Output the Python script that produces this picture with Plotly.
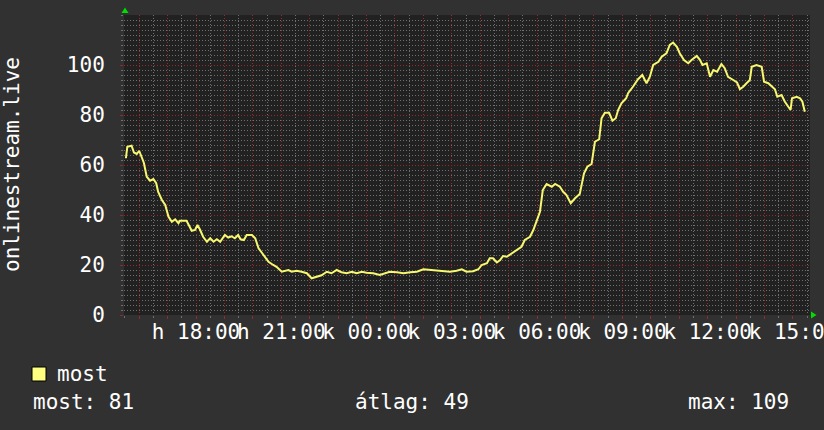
import plotly.graph_objects as go
import pandas as pd

# ---- data ----
times = ["15:32","15:35","15:44","15:49","15:55","16:00","16:05","16:10","16:16","16:23",
         "16:30","16:36","16:40","16:48","16:55","17:02","17:09","17:16","17:23","17:26",
         "17:40","17:47","17:51","17:58","18:03","18:08","18:15","18:23","18:30","18:37",
         "18:44","18:51","19:01","19:08","19:15","19:22","19:29","19:34","19:41","19:47",
         "19:58","20:05","20:12","20:19","20:26","20:33","20:43","20:50","21:01","21:15",
         "21:22","21:32",
         "21:43","21:54","22:04","22:15","22:25","22:36","22:46","22:57","23:07","23:18",
         "23:29","23:39","23:50","00:00","00:14","00:28","00:39","00:49","01:04","01:18",
         "01:32","01:46","02:00","02:14","02:28","02:42","02:56","03:10","03:21","03:31",
         "03:45","03:56","04:03","04:14","04:20","04:27","04:35","04:42","04:48","04:56",
         "05:06","05:17","05:27","05:34",
         "05:45","05:52","05:59","06:06","06:12","06:20","06:31","06:38","06:48","06:55",
         "07:02","07:11","07:20","07:30","07:39","07:46","07:55","08:02","08:11","08:16",
         "08:23","08:32","08:39","08:46","08:51","08:58","09:08","09:12","09:23","09:33",
         "09:42","09:51","09:58","10:05","10:16","10:23","10:33","10:40","10:47","10:55",
         "11:01","11:10","11:19","11:26","11:37","11:44","11:49","11:58","12:05","12:12",
         "12:20","12:29","12:36","12:43","12:54","13:02","13:08","13:15","13:22","13:29",
         "13:33","13:43","13:54","13:59","14:08","14:15","14:22","14:27","14:36","14:43",
         "14:50","14:55","14:58","15:08","15:15","15:20","15:25"]
values = [62.7,67.3,67.7,65,64.4,65.7,63.3,60.8,55.3,53.7,
          54.4,52.7,49.3,46,44,39.3,37.3,38.3,36.7,37.7,
          37.7,35.3,33.7,34,36,34.3,31.3,29.3,30.7,29.3,
          30.3,29.3,32,31,31.5,30.7,32,30.3,30,32,
          32,30.7,26.7,24.9,23.3,21.3,20,19.3,17.3,18,
          17.3,17.7,
          17.3,16.7,14.7,15.2,15.9,17.3,16.7,18,17.1,16.7,
          17.3,16.7,17.3,16.9,16.7,16,16.7,17.3,17.1,16.7,
          17.1,17.3,18.3,18,17.7,17.7,17.3,17.7,18.3,17.3,
          17.5,18.3,20,20.7,22.7,22.7,21,22,23.6,23.3,
          24.7,26,27.3,30,
          31.3,34,37.3,41.3,50,52.4,51.3,52.4,51.3,49.3,
          48,44.7,46.7,48.4,56.7,59.3,60.4,69.3,70.3,78.7,
          80.9,80.9,77.7,78.7,82,84.7,86.7,88.7,91.5,94.3,
          96,92.7,95.3,100,101.3,103.3,104.7,108,109,107.3,
          104.7,102,100.7,102,103.6,102,100,100.7,95.3,98,
          97.3,100.4,98.7,95.3,94,93,90.3,91.3,92.7,94,
          99.3,100,99.3,93.3,92.7,91.3,90.3,87.3,88,85.3,
          83.3,82,86.7,87.3,86.7,85.3,81.3]

start_day = "2024-01-01"
x_range = ["2024-01-01 15:28", "2024-01-02 15:36"]
tick_times = ["2024-01-01 18:00", "2024-01-01 21:00", "2024-01-02 00:00", "2024-01-02 03:00",
              "2024-01-02 06:00", "2024-01-02 09:00", "2024-01-02 12:00", "2024-01-02 15:00"]
tick_labels = ["h 18:00", "h 21:00", "k 00:00", "k 03:00", "k 06:00", "k 09:00", "k 12:00", "k 15:00"]
y_ticks = [0, 20, 40, 60, 80, 100]
y_title = "onlinestream.live"
series_name = "most"
stat_labels = ["most: 81", "átlag: 49", "max: 109"]

# ---- build timestamps (day rolls over when the clock goes back) ----
day = pd.Timestamp(start_day)
xs = []
prev = None
for t in times:
    h, m = map(int, t.split(":"))
    mins = h * 60 + m
    if prev is not None and mins < prev:
        day += pd.Timedelta(days=1)
    prev = mins
    xs.append(day + pd.Timedelta(minutes=mins))

hour_ticks = pd.date_range("2024-01-01 16:00", "2024-01-02 15:00", freq="h")
label_map = {pd.Timestamp(a): b for a, b in zip(tick_times, tick_labels)}
hour_text = [label_map.get(h, "") for h in hour_ticks]

# ---- layout geometry (pixels) ----
W, H = 824, 430
L, R, T, B = 124, 810, 15, 315
def px(x):
    return (x - L) / (R - L)
def py(y):
    return (B - y) / (B - T)

FONT = "DejaVu Sans Mono"
LINE = "#f8f870"
RED = "rgba(150,40,40,0.95)"
GREY = "rgba(120,120,120,0.9)"

fig = go.Figure()
fig.add_trace(go.Scatter(x=xs, y=values, mode="lines", line=dict(color=LINE, width=2),
                         name=series_name, showlegend=False, hoverinfo="skip", cliponaxis=False))

fig.update_layout(
    width=W, height=H,
    margin=dict(l=L, r=W - R, t=T, b=H - B, pad=0, autoexpand=False),
    paper_bgcolor="#313131",
    plot_bgcolor="#212121",
    font=dict(family=FONT, size=21, color="#ffffff"),
    showlegend=False,
    xaxis=dict(
        range=x_range, tickmode="array", tickvals=hour_ticks, ticktext=hour_text,
        tickangle=0, automargin=False, ticklabeloverflow="allow", ticklabelstandoff=-5,
        showgrid=True, gridcolor=RED, gridwidth=1, griddash="1px,2px",
        ticks="outside", ticklen=3, tickcolor=RED, zeroline=False, showline=False,
        tickfont=dict(family=FONT, size=21, color="#ffffff"),
        minor=dict(dtick=1800000, tick0="2024-01-01 00:00", showgrid=True, gridcolor=GREY,
                   griddash="1px,2px", ticks="outside", ticklen=2, tickcolor=GREY),
    ),
    yaxis=dict(
        range=[0, 120], tickmode="array", tickvals=y_ticks, automargin=False,
        showgrid=True, gridcolor=RED, gridwidth=1, griddash="1px,2px",
        ticks="outside", ticklen=3, tickcolor=RED, zeroline=False, showline=False,
        ticklabelstandoff=11,
        tickfont=dict(family=FONT, size=21, color="#ffffff"),
        minor=dict(dtick=2, tick0=0, showgrid=True, gridcolor=GREY, griddash="1px,2px",
                   ticks="outside", ticklen=2, tickcolor=GREY),
    ),
)

annotations = [
    dict(text=y_title, x=px(12), y=0.5, textangle=-90, xanchor="center", yanchor="middle"),
    dict(text=series_name, x=px(55), y=py(374), xanchor="left", yanchor="middle"),
    dict(text=stat_labels[0], x=px(31), y=py(402), xanchor="left", yanchor="middle"),
    dict(text=stat_labels[1], x=px(353), y=py(402), xanchor="left", yanchor="middle"),
    dict(text=stat_labels[2], x=px(686), y=py(402), xanchor="left", yanchor="middle"),
]
for a in annotations:
    a.update(xref="paper", yref="paper", showarrow=False,
             font=dict(family=FONT, size=21, color="#ffffff"))
fig.update_layout(annotations=annotations)

shapes = [
    dict(type="rect", xref="paper", yref="paper", x0=px(32), x1=px(46), y0=py(381), y1=py(367),
         fillcolor="#ffff80", line=dict(color="#000000", width=1)),
    dict(type="path", xref="paper", yref="paper",
         path=f"M {px(121.5)},{py(13)} L {px(128.5)},{py(13)} L {px(125)},{py(7.5)} Z",
         fillcolor="#00dd00", line=dict(width=0)),
    dict(type="path", xref="paper", yref="paper",
         path=f"M {px(811)},{py(311.5)} L {px(811)},{py(318.5)} L {px(816.5)},{py(315)} Z",
         fillcolor="#00dd00", line=dict(width=0)),
]
fig.update_layout(shapes=shapes)

fig.write_html("out.html", config={"displayModeBar": False},
               post_script="document.body.style.margin='0';document.body.style.background='#313131';")
